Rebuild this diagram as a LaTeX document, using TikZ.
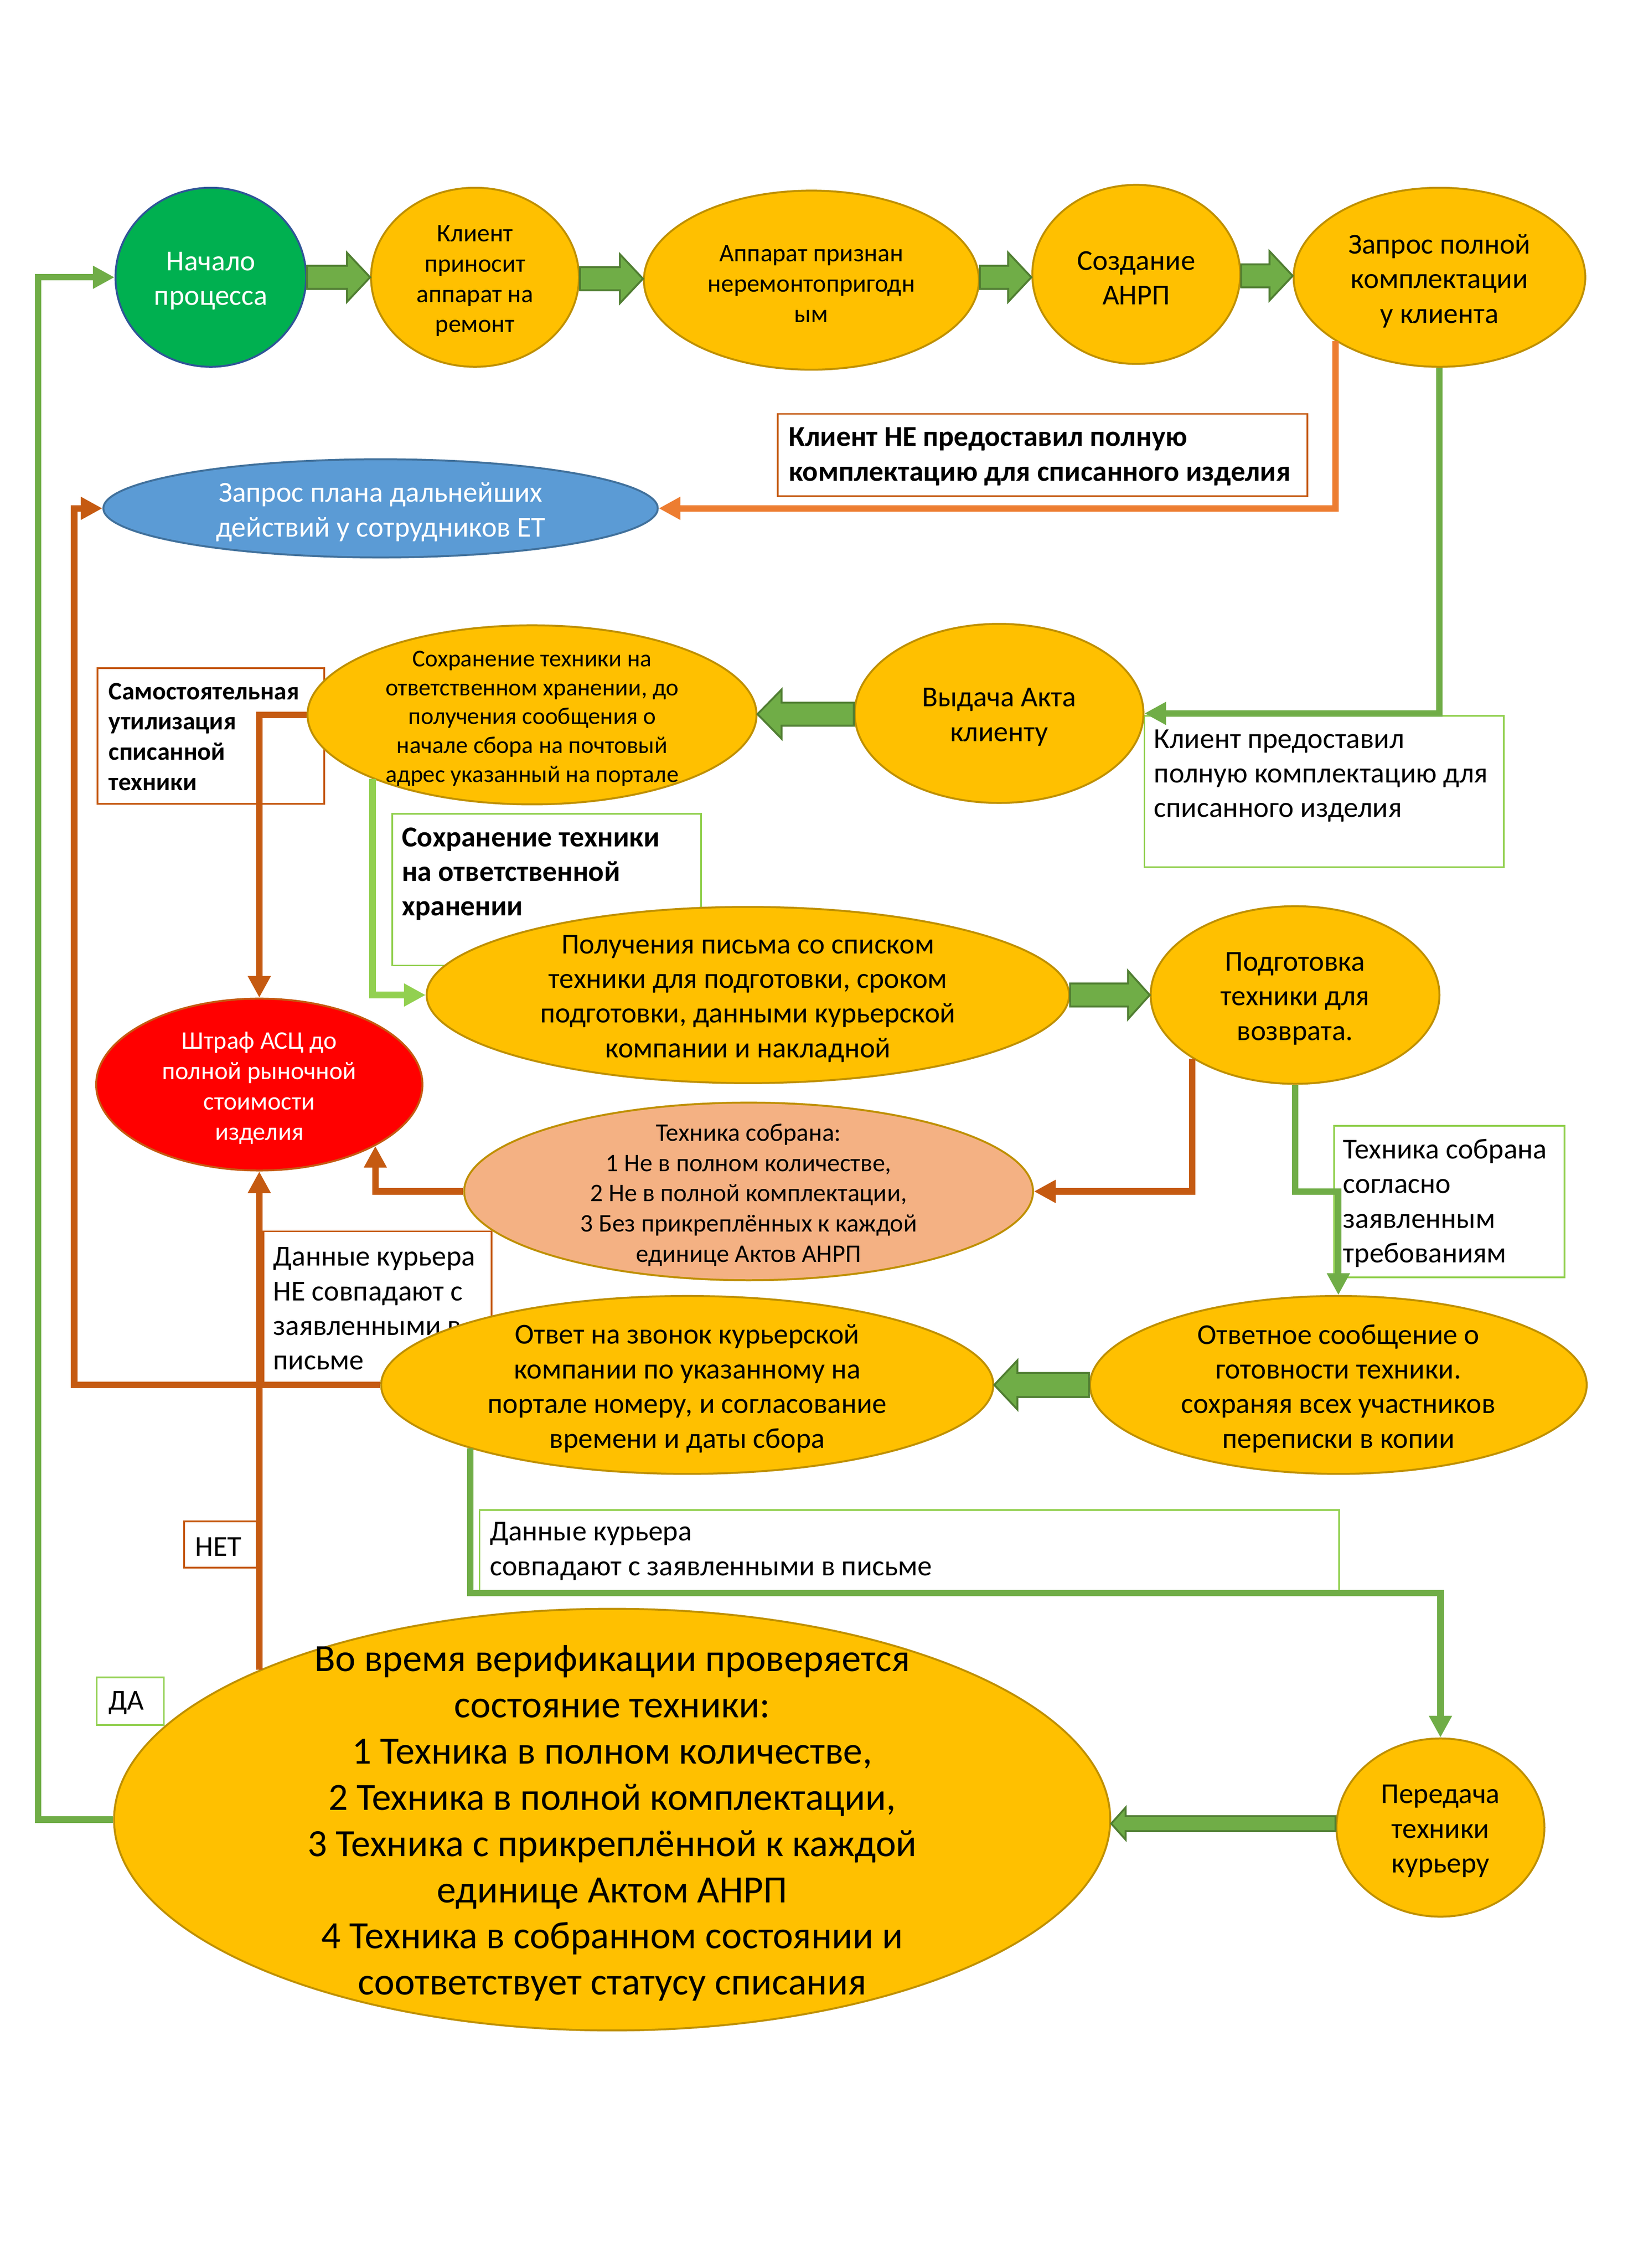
\documentclass[tikz,border=0pt]{standalone}
\usepackage{fontspec}
\setmainfont{Carlito}
\usetikzlibrary{shapes.geometric,arrows.meta,calc}
\definecolor{yel}{HTML}{FFC000}
\definecolor{ybord}{HTML}{BF9000}
\definecolor{startg}{HTML}{00B050}
\definecolor{startb}{HTML}{2F5597}
\definecolor{bluef}{HTML}{5B9BD5}
\definecolor{blueb}{HTML}{41719C}
\definecolor{redf}{HTML}{FF0000}
\definecolor{salm}{HTML}{F4B183}
\definecolor{arrf}{HTML}{70AD47}
\definecolor{arrb}{HTML}{507E32}
\definecolor{orl}{HTML}{ED7D31}
\definecolor{dor}{HTML}{C55A11}
\definecolor{lgr}{HTML}{92D050}

% block arrow pointing right: from, to, half shaft, half head, head length
\newcommand\rblk[5]{\path[blk] let \p1=(#1), \p2=(#2), \n1={(\y1+\y2)/2} in
 (\x1,\n1+#3) -- (\x2-#5,\n1+#3) -- (\x2-#5,\n1+#4) -- (\x2,\n1)
 -- (\x2-#5,\n1-#4) -- (\x2-#5,\n1-#3) -- (\x1,\n1-#3) -- cycle;}
% block arrow pointing left
\newcommand\lblk[5]{\path[blk] let \p1=(#1), \p2=(#2), \n1={(\y1+\y2)/2} in
 (\x1,\n1+#3) -- (\x2+#5,\n1+#3) -- (\x2+#5,\n1+#4) -- (\x2,\n1)
 -- (\x2+#5,\n1-#4) -- (\x2+#5,\n1-#3) -- (\x1,\n1-#3) -- cycle;}

\tikzset{
 E/.style 2 args={ellipse, inner sep=0pt, line width=0.8pt,
   minimum width=#1*1.2pt, minimum height=#2*1.2pt},
 Y/.style={fill=yel, draw=ybord},
 tx/.style={align=center, inner sep=0pt, yshift=-1.5pt},
 tL/.style={tx, font=\fontsize{12}{14.4}\selectfont},
 tM/.style={tx, font=\fontsize{10.5}{12.6}\selectfont},
 tS/.style={tx, font=\fontsize{10}{12}\selectfont},
 tXL/.style={tx, font=\fontsize{16}{19.2}\selectfont},
 bx/.style 2 args={rectangle, anchor=north west, inner sep=0pt, fill=white,
   line width=0.7pt, minimum width=#1*0.6pt, minimum height=#2*0.6pt},
 bt/.style={anchor=west, align=left, inner sep=0pt, yshift=-1.3pt},
 con/.style={line width=2.7pt, -{Triangle[length=9pt,width=9pt]}},
 blk/.style={fill=arrf, draw=arrb, line width=0.8pt},
}

\begin{document}
\begin{tikzpicture}[x=0.6pt,y=-0.6pt]
\useasboundingbox (0,0) rectangle (1131,1570.5);

% ---------- text boxes ----------
\node[bx={367}{57}, draw=dor] (bx1) at (538,286) {};
\node[bt, font=\bfseries\fontsize{12}{14.4}\selectfont] (bx1t) at (546,314)
  {Клиент НЕ предоставил полную\\комплектацию для списанного изделия};
\node[bx={249}{105}, draw=lgr] (bx2) at (792,495) {};
\node[bt, font=\fontsize{12}{14.4}\selectfont] (bx2t) at (799,535)
  {Клиент предоставил\\полную комплектацию для\\списанного изделия};
\node[bx={157}{94}, draw=dor] (bx3) at (67,462) {};
\node[bt, font=\bfseries\fontsize{10.5}{12.6}\selectfont] (bx3t) at (75,508)
  {Самостоятельная\\утилизация\\списанной\\техники};
\node[bx={214}{105}, draw=lgr] (bx4) at (271,563) {};
\node[bt, font=\bfseries\fontsize{12}{14.4}\selectfont] (bx4t) at (278,603)
  {Сохранение техники\\на ответственной\\хранении};
\node[bx={159.5}{105}, draw=lgr] (bx5) at (923.5,779) {};
\node[bt, font=\fontsize{12}{14.4}\selectfont] (bx5t) at (930,831)
  {Техника собрана\\согласно\\заявленным\\требованиям};
\node[bx={158}{105}, draw=dor] (bx6) at (182,852) {};
\node[bt, font=\fontsize{12}{14.4}\selectfont] (bx6t) at (189,904)
  {Данные курьера\\НЕ совпадают с\\заявленными в\\письме};
\node[bx={50}{32}, draw=dor] (bx7) at (127,1053) {};
\node[bt, font=\fontsize{12}{14.4}\selectfont] (bx7t) at (135,1069) {НЕТ};
\node[bx={46.5}{33}, draw=lgr] (bx8) at (66.5,1161) {};
\node[bt, font=\fontsize{12}{14.4}\selectfont] (bx8t) at (75,1177) {ДА};
\node[bx={595.4}{56}, draw=lgr] (bx9) at (331.6,1045) {};
\node[bt, font=\fontsize{12}{14.4}\selectfont] (bx9t) at (339,1072)
  {Данные курьера\\совпадают с заявленными в письме};

% ---------- ellipses ----------
\node[E={66}{62}, fill=startg, draw=startb] (n1) at (146,192) {};
\node[tL, text=white] (n1t) at (n1) {Начало\\процесса};
\node[E={72}{62}, Y] (n2) at (329,192) {};
\node[tM] (n2t) at (n2) {Клиент\\приносит\\аппарат на\\ремонт};
\node[E={116}{62}, Y] (n3) at (562,194) {};
\node[tM] (n3t) at (n3) {Аппарат признан\\неремонтопригодн\\ым};
\node[E={72}{62}, Y] (n4) at (787,190) {};
\node[tL] (n4t) at (n4) {Создание\\АНРП};
\node[E={101}{62}, Y] (n5) at (997,192) {};
\node[tL] (n5t) at (n5) {Запрос полной\\комплектации\\у клиента};

\node[E={192}{34}, fill=bluef, draw=blueb] (b) at (263.6,352) {};
\node[tL, text=white] (bt) at (b) {Запрос плана дальнейших\\действий у сотрудников ЕТ};

\node[E={100}{62}, Y] (vyd) at (692,494) {};
\node[tL] (vydt) at (vyd) {Выдача Акта\\клиенту};
\node[E={155.5}{62}, Y] (sokhr) at (368.5,495) {};
\node[tS] (sokhrt) at (sokhr) {Сохранение техники на\\ответственном хранении, до\\получения сообщения о\\начале сбора на почтовый\\адрес указанный на портале};

\node[E={222.5}{61}, Y] (pol) at (518,689) {};
\node[tL] (polt) at (pol) {Получения письма со списком\\техники для подготовки, сроком\\подготовки, данными курьерской\\компании и накладной};
\node[E={100}{61.5}, Y] (podg) at (897,689) {};
\node[tL] (podgt) at (podg) {Подготовка\\техники для\\возврата.};

\node[E={113}{59.5}, fill=redf, draw=dor] (shtraf) at (179.6,751) {};
\node[tM, text=white] (shtraft) at (shtraf) {Штраф АСЦ до\\полной рыночной\\стоимости\\изделия};
\node[E={197}{61.5}, fill=salm, draw=ybord] (tso) at (518.5,825) {};
\node[tM] (tsot) at (tso) {Техника собрана:\\1 Не в полном количестве,\\2 Не в полной комплектации,\\3 Без прикреплённых к каждой\\единице Актов АНРП};

\node[E={212}{61.6}, Y] (otv) at (476,959) {};
\node[tL] (otvt) at (otv) {Ответ на звонок курьерской\\компании по указанному на\\портале номеру, и согласование\\времени и даты сбора};
\node[E={172}{61.6}, Y] (otvs) at (927,959) {};
\node[tL] (otvst) at (otvs) {Ответное сообщение о\\готовности техники.\\сохраняя всех участников\\переписки в копии};

\node[E={72}{61.7}, Y] (per) at (997.7,1265.5) {};
\node[tL] (pert) at (per) {Передача\\техники\\курьеру};
\node[E={345}{146}, Y] (ver) at (424,1260) {};
\node[tXL] (vert) at (ver) {Во время верификации проверяется\\состояние техники:\\1 Техника в полном количестве,\\2 Техника в полной комплектации,\\3 Техника с прикреплённой к каждой\\единице Актом АНРП\\4 Техника в собранном состоянии и\\соответствует статусу списания};

% ---------- connectors ----------
\draw[con, orl] (n5.south west) |- (b.east);
\draw[con, arrf] (n5.south) |- (vyd.east);
\draw[con, dor] (otv.west) -- ++(-212,0) |- (b.west);
\draw[con, dor] (sokhr.west) -| (shtraf.north);
\draw[con, lgr] (sokhr.south west) |- (pol.west);
\draw[con, dor] (podg.south west) |- (tso.east);
\draw[con, arrf] (podg.south) -- ++(0,74) -| (otvs.north);
\draw[con, dor] (tso.west) -| (shtraf.south east);
\draw[con, dor] (ver.north west) -- (ver.north west |- shtraf.south);
\draw[con, arrf] (ver.west) -- ++(-52,0) |- (n1.west);
\draw[con, arrf] (otv.south west) -- ++(0,100) -| (per.north);

% ---------- block arrows ----------
\rblk{n1.east}{n2.west}{4.8pt}{10.2pt}{9.6pt}
\rblk{n2.east}{n3.west}{4.8pt}{10.2pt}{9.6pt}
\rblk{n3.east}{n4.west}{4.8pt}{10.2pt}{9.6pt}
\rblk{n4.east}{n5.west}{4.8pt}{10.2pt}{9.6pt}
\lblk{vyd.west}{sokhr.east}{4.8pt}{10.2pt}{10pt}
\rblk{pol.east}{podg.west}{4.8pt}{10pt}{9pt}
\lblk{otvs.west}{otv.east}{5pt}{10.2pt}{9.6pt}
\lblk{per.west}{ver.east}{3.1pt}{6.7pt}{6pt}
\end{tikzpicture}
\end{document}
